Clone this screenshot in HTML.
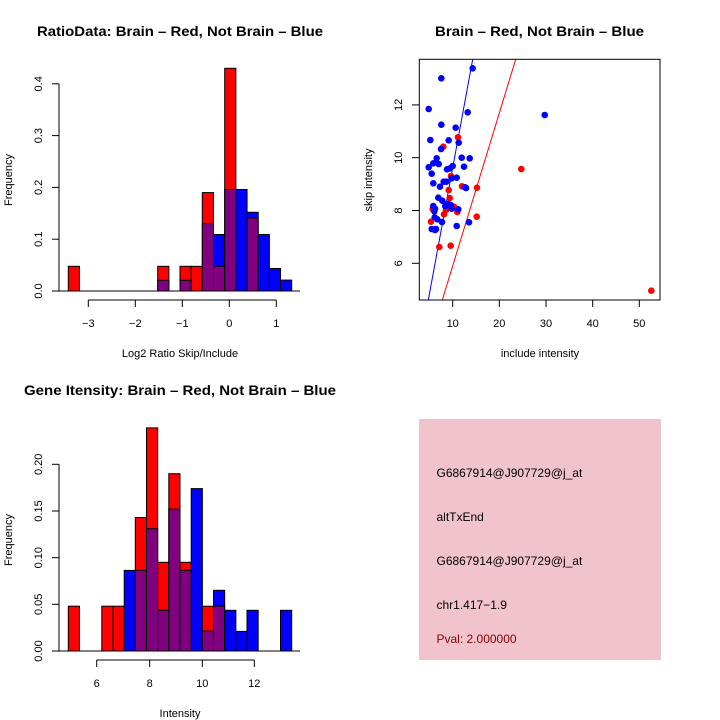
<!DOCTYPE html>
<html><head><meta charset="utf-8"><style>body{margin:0;background:#fff}svg{display:block}text{font-family:"Liberation Sans",sans-serif;fill:#000}</style></head><body>
<svg width="720" height="720" viewBox="0 0 720 720" xmlns="http://www.w3.org/2000/svg">
<rect width="720" height="720" fill="#fff"/>
<!-- Titles -->
<text x="37" y="36" font-size="14" font-weight="bold" textLength="286" lengthAdjust="spacingAndGlyphs">RatioData: Brain – Red, Not Brain – Blue</text>
<text x="435" y="36" font-size="14" font-weight="bold" textLength="209" lengthAdjust="spacingAndGlyphs">Brain – Red, Not Brain – Blue</text>
<text x="24" y="395" font-size="14" font-weight="bold" textLength="312" lengthAdjust="spacingAndGlyphs">Gene Itensity: Brain – Red, Not Brain – Blue</text>

<!-- Top-left histogram -->
<g stroke="#000" stroke-width="1">
<rect x="68.3" y="266.3" width="11.17" height="24.7" fill="#f00"/>
<rect x="157.7" y="266.3" width="11.17" height="24.7" fill="#f00"/>
<rect x="157.7" y="280.3" width="11.17" height="10.7" fill="#800080"/>
<rect x="180.0" y="266.3" width="11.17" height="24.7" fill="#f00"/>
<rect x="180.0" y="280.3" width="11.17" height="10.7" fill="#800080"/>
<rect x="191.2" y="266.3" width="11.17" height="24.7" fill="#f00"/>
<rect x="202.3" y="192.6" width="11.17" height="98.4" fill="#f00"/>
<rect x="202.3" y="223.7" width="11.17" height="67.3" fill="#800080"/>
<rect x="213.5" y="234.5" width="11.17" height="56.5" fill="#00f"/>
<rect x="213.5" y="266.3" width="11.17" height="24.7" fill="#800080"/>
<rect x="224.7" y="68.3" width="11.17" height="222.7" fill="#f00"/>
<rect x="224.7" y="189.5" width="11.17" height="101.5" fill="#800080"/>
<rect x="235.9" y="189.5" width="11.17" height="101.5" fill="#00f"/>
<rect x="247.0" y="212.3" width="11.17" height="78.7" fill="#00f"/>
<rect x="247.0" y="218" width="11.17" height="73" fill="#800080"/>
<rect x="258.2" y="234.5" width="11.17" height="56.5" fill="#00f"/>
<rect x="269.4" y="268.5" width="11.17" height="22.5" fill="#00f"/>
<rect x="280.5" y="280.1" width="11.17" height="10.9" fill="#00f"/>
</g>
<g stroke="#000" stroke-width="1" fill="none">
<line x1="52" y1="291" x2="300" y2="291"/>
<line x1="59" y1="291" x2="59" y2="83.8"/>
<line x1="52" y1="291" x2="59" y2="291"/><line x1="52" y1="239.2" x2="59" y2="239.2"/><line x1="52" y1="187.4" x2="59" y2="187.4"/><line x1="52" y1="135.6" x2="59" y2="135.6"/><line x1="52" y1="83.8" x2="59" y2="83.8"/>
<line x1="88.3" y1="300" x2="276.3" y2="300"/>
<line x1="88.3" y1="300" x2="88.3" y2="307"/><line x1="135.3" y1="300" x2="135.3" y2="307"/><line x1="182.3" y1="300" x2="182.3" y2="307"/><line x1="229.3" y1="300" x2="229.3" y2="307"/><line x1="276.3" y1="300" x2="276.3" y2="307"/>
</g>
<g font-size="11" text-anchor="middle">
<text transform="translate(42,291) rotate(-90)">0.0</text>
<text transform="translate(42,239.2) rotate(-90)">0.1</text>
<text transform="translate(42,187.4) rotate(-90)">0.2</text>
<text transform="translate(42,135.6) rotate(-90)">0.3</text>
<text transform="translate(42,83.8) rotate(-90)">0.4</text>
<text x="88.3" y="327">−3</text><text x="135.3" y="327">−2</text><text x="182.3" y="327">−1</text><text x="229.3" y="327">0</text><text x="276.3" y="327">1</text>
<text x="180" y="357">Log2 Ratio Skip/Include</text>
<text transform="translate(12,180) rotate(-90)">Frequency</text>
</g>

<!-- Bottom-left histogram -->
<g stroke="#000" stroke-width="1">
<rect x="68.3" y="606.2" width="11.17" height="44.8" fill="#f00"/>
<rect x="101.8" y="606.2" width="11.17" height="44.8" fill="#f00"/>
<rect x="113.0" y="606.2" width="11.17" height="44.8" fill="#f00"/>
<rect x="124.2" y="570.4" width="11.17" height="80.6" fill="#00f"/>
<rect x="135.3" y="517.5" width="11.17" height="133.5" fill="#f00"/>
<rect x="135.3" y="570.4" width="11.17" height="80.6" fill="#800080"/>
<rect x="146.5" y="427.9" width="11.17" height="223.1" fill="#f00"/>
<rect x="146.5" y="528.7" width="11.17" height="122.3" fill="#800080"/>
<rect x="157.7" y="562.3" width="11.17" height="88.7" fill="#f00"/>
<rect x="157.7" y="610.3" width="11.17" height="40.7" fill="#800080"/>
<rect x="168.8" y="473.7" width="11.17" height="177.3" fill="#f00"/>
<rect x="168.8" y="509.1" width="11.17" height="141.9" fill="#800080"/>
<rect x="180.0" y="562.3" width="11.17" height="88.7" fill="#f00"/>
<rect x="180.0" y="570.4" width="11.17" height="80.6" fill="#800080"/>
<rect x="191.2" y="488.6" width="11.17" height="162.4" fill="#00f"/>
<rect x="202.3" y="606.2" width="11.17" height="44.8" fill="#f00"/>
<rect x="202.3" y="631" width="11.17" height="20" fill="#800080"/>
<rect x="213.5" y="590.3" width="11.17" height="60.7" fill="#00f"/>
<rect x="213.5" y="606.2" width="11.17" height="44.8" fill="#800080"/>
<rect x="224.7" y="610.3" width="11.17" height="40.7" fill="#00f"/>
<rect x="235.9" y="631.4" width="11.17" height="19.6" fill="#00f"/>
<rect x="247.0" y="610.3" width="11.17" height="40.7" fill="#00f"/>
<rect x="280.5" y="610.3" width="11.17" height="40.7" fill="#00f"/>
</g>
<g stroke="#000" stroke-width="1" fill="none">
<line x1="52" y1="651" x2="300" y2="651"/>
<line x1="59" y1="651" x2="59" y2="464.3"/>
<line x1="52" y1="651" x2="59" y2="651"/><line x1="52" y1="604.3" x2="59" y2="604.3"/><line x1="52" y1="557.7" x2="59" y2="557.7"/><line x1="52" y1="511" x2="59" y2="511"/><line x1="52" y1="464.3" x2="59" y2="464.3"/>
<line x1="96.7" y1="660" x2="254.3" y2="660"/>
<line x1="96.7" y1="660" x2="96.7" y2="667"/><line x1="149.7" y1="660" x2="149.7" y2="667"/><line x1="202.3" y1="660" x2="202.3" y2="667"/><line x1="254.3" y1="660" x2="254.3" y2="667"/>
</g>
<g font-size="11" text-anchor="middle">
<text transform="translate(42,651) rotate(-90)">0.00</text>
<text transform="translate(42,604.3) rotate(-90)">0.05</text>
<text transform="translate(42,557.7) rotate(-90)">0.10</text>
<text transform="translate(42,511) rotate(-90)">0.15</text>
<text transform="translate(42,464.3) rotate(-90)">0.20</text>
<text x="96.7" y="687">6</text><text x="149.7" y="687">8</text><text x="202.3" y="687">10</text><text x="254.3" y="687">12</text>
<text x="180" y="717">Intensity</text>
<text transform="translate(12,540) rotate(-90)">Frequency</text>
</g>

<!-- Scatter -->
<defs><clipPath id="c"><rect x="419.3" y="59.3" width="240.7" height="240.7"/></clipPath></defs>
<g clip-path="url(#c)">
<line x1="428.3" y1="300" x2="472.7" y2="59.3" stroke="#00f" stroke-width="1"/>
<line x1="442.3" y1="300" x2="515.7" y2="59.3" stroke="#f00" stroke-width="1"/>
</g>
<g fill="#f00">
<circle cx="443.3" cy="146.7" r="3.3"/><circle cx="458" cy="137.3" r="3.3"/><circle cx="432.7" cy="209" r="3.3"/><circle cx="431" cy="221.7" r="3.3"/><circle cx="439.3" cy="247" r="3.3"/><circle cx="450.7" cy="245.7" r="3.3"/><circle cx="448.7" cy="190" r="3.3"/><circle cx="449.7" cy="198" r="3.3"/><circle cx="447.7" cy="204" r="3.3"/><circle cx="444" cy="214.3" r="3.3"/><circle cx="457.3" cy="212" r="3.3"/><circle cx="454" cy="206.7" r="3.3"/><circle cx="451" cy="176" r="3.3"/><circle cx="462" cy="186.3" r="3.3"/><circle cx="477" cy="187.7" r="3.3"/><circle cx="476.7" cy="216.7" r="3.3"/><circle cx="521.3" cy="169" r="3.3"/><circle cx="651.3" cy="290.7" r="3.3"/><circle cx="446.7" cy="206.7" r="3.3"/><circle cx="446" cy="210" r="3.3"/>
</g>
<g fill="#00f">
<circle cx="441.3" cy="78.3" r="3.3"/><circle cx="472.7" cy="68.3" r="3.3"/><circle cx="428.7" cy="109" r="3.3"/><circle cx="467.7" cy="112.3" r="3.3"/><circle cx="544.7" cy="115" r="3.3"/><circle cx="441.3" cy="124.7" r="3.3"/><circle cx="455.7" cy="127.7" r="3.3"/><circle cx="430.3" cy="140" r="3.3"/><circle cx="448.7" cy="140.3" r="3.3"/><circle cx="458.7" cy="142.7" r="3.3"/><circle cx="441" cy="149" r="3.3"/><circle cx="436.7" cy="158.3" r="3.3"/><circle cx="461.7" cy="157.7" r="3.3"/><circle cx="469.7" cy="158.3" r="3.3"/><circle cx="433.3" cy="163.3" r="3.3"/><circle cx="438.7" cy="164" r="3.3"/><circle cx="428.7" cy="167.3" r="3.3"/><circle cx="452.7" cy="166" r="3.3"/><circle cx="464" cy="166.7" r="3.3"/><circle cx="447" cy="169.3" r="3.3"/><circle cx="431.7" cy="173.7" r="3.3"/><circle cx="450" cy="168.3" r="3.3"/><circle cx="433.3" cy="183.3" r="3.3"/><circle cx="443.7" cy="181.7" r="3.3"/><circle cx="446.3" cy="181.7" r="3.3"/><circle cx="440" cy="186.7" r="3.3"/><circle cx="456.7" cy="177.7" r="3.3"/><circle cx="451.7" cy="178.3" r="3.3"/><circle cx="465" cy="187.3" r="3.3"/><circle cx="466" cy="188" r="3.3"/><circle cx="438.3" cy="197.7" r="3.3"/><circle cx="442.3" cy="200.7" r="3.3"/><circle cx="448.3" cy="204" r="3.3"/><circle cx="450.7" cy="205" r="3.3"/><circle cx="433.3" cy="206" r="3.3"/><circle cx="435" cy="208.7" r="3.3"/><circle cx="434.3" cy="211.3" r="3.3"/><circle cx="451.7" cy="208.7" r="3.3"/><circle cx="458.3" cy="209.3" r="3.3"/><circle cx="434.7" cy="217.3" r="3.3"/><circle cx="437.3" cy="219.3" r="3.3"/><circle cx="442" cy="222" r="3.3"/><circle cx="469" cy="222.3" r="3.3"/><circle cx="456.7" cy="226" r="3.3"/><circle cx="431.7" cy="229" r="3.3"/><circle cx="436" cy="229" r="3.3"/><circle cx="435" cy="230" r="3.3"/><circle cx="445.3" cy="206" r="3.3"/>
</g>
<g stroke="#000" stroke-width="1" fill="none">
<rect x="419.3" y="59.3" width="240.7" height="240.7"/>
<line x1="412" y1="263.3" x2="419.3" y2="263.3"/><line x1="412" y1="210.5" x2="419.3" y2="210.5"/><line x1="412" y1="157.7" x2="419.3" y2="157.7"/><line x1="412" y1="104.9" x2="419.3" y2="104.9"/>
<line x1="452.7" y1="300" x2="452.7" y2="307"/><line x1="499.3" y1="300" x2="499.3" y2="307"/><line x1="546" y1="300" x2="546" y2="307"/><line x1="592.7" y1="300" x2="592.7" y2="307"/><line x1="639.3" y1="300" x2="639.3" y2="307"/>
</g>
<g font-size="11" text-anchor="middle">
<text transform="translate(402,263.3) rotate(-90)">6</text>
<text transform="translate(402,210.5) rotate(-90)">8</text>
<text transform="translate(402,157.7) rotate(-90)">10</text>
<text transform="translate(402,104.9) rotate(-90)">12</text>
<text x="452.7" y="327">10</text><text x="499.3" y="327">20</text><text x="546" y="327">30</text><text x="592.7" y="327">40</text><text x="639.3" y="327">50</text>
<text x="540" y="357">include intensity</text>
<text transform="translate(372,180) rotate(-90)">skip intensity</text>
</g>

<!-- Text panel -->
<rect x="419" y="419" width="242" height="241" fill="#f1c3cd"/>
<g font-size="12">
<text x="436.5" y="477">G6867914@J907729@j_at</text>
<text x="436.5" y="521">altTxEnd</text>
<text x="436.5" y="565">G6867914@J907729@j_at</text>
<text x="436.5" y="609">chr1.417−1.9</text>
<text x="436.5" y="643" style="fill:#8b0000">Pval: 2.000000</text>
</g>
</svg>
</body></html>
